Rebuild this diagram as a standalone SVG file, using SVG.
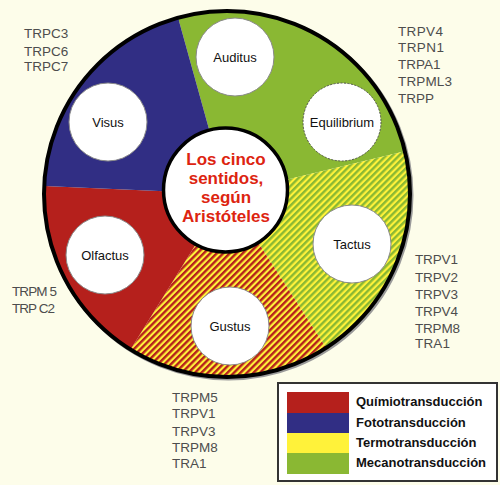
<svg xmlns="http://www.w3.org/2000/svg" width="500" height="485" viewBox="0 0 500 485">
<style>
.node{fill:#fff;stroke:#8a8a8a;stroke-width:1}
.dash{stroke:#555;stroke-dasharray:2 1.5}
.nl{font-family:"Liberation Sans",Arial,sans-serif;font-size:13px;fill:#111;text-anchor:middle}
.lab{font-family:"Liberation Sans",Arial,sans-serif;font-size:13.5px;fill:#4d4d4d}
.ctr{font-family:"Liberation Sans",Arial,sans-serif;font-size:17px;font-weight:bold;fill:#dd2410;text-anchor:middle}
.leg{font-family:"Liberation Sans",Arial,sans-serif;font-size:13px;font-weight:bold;fill:#111}
</style>
<defs>
<pattern id="hRed" width="4.6" height="4.6" patternUnits="userSpaceOnUse" patternTransform="rotate(45)">
<rect width="4.6" height="4.6" fill="#fff23a"/>
<rect width="2.4" height="4.6" fill="#b5201c"/>
</pattern>
<pattern id="hGreen" width="4.6" height="4.6" patternUnits="userSpaceOnUse" patternTransform="rotate(45)">
<rect width="4.6" height="4.6" fill="#fff23a"/>
<rect width="2.4" height="4.6" fill="#8ab833"/>
</pattern>
</defs>
<rect width="500" height="485" fill="#fdfdea"/>
<g id="sectors">
<circle cx="228.5" cy="195.5" r="183" fill="none" stroke="#9a9a9a" stroke-width="4"/>
<path d="M227 194 L178.1 17.7 A183 183 0 0 1 404.9 151.3 Z" fill="#8ab833"/>
<path d="M227 194 L404.9 151.3 A183 183 0 0 1 326.1 347.8 Z" fill="url(#hGreen)"/>
<path d="M227 194 L326.1 347.8 A183 183 0 0 1 130.6 349.5 Z" fill="url(#hRed)"/>
<path d="M227 194 L130.6 349.5 A183 183 0 0 1 44.2 186 Z" fill="#b5201c"/>
<path d="M227 194 L44.2 186 A183 183 0 0 1 178.1 17.7 Z" fill="#312e84"/>
<circle cx="227" cy="194" r="183" fill="none" stroke="#000" stroke-width="4"/>
</g>
<g id="connectors"/>
<g id="center">
<circle cx="225.5" cy="190" r="62" fill="#fff" stroke="#000" stroke-width="3.5"/>
<text class="ctr" x="226" y="164.5">Los cinco</text>
<text class="ctr" x="226" y="184">sentidos,</text>
<text class="ctr" x="226" y="203">según</text>
<text class="ctr" x="226" y="222">Aristóteles</text>
</g>
<g id="auditus">
<circle class="node" cx="235" cy="57" r="39"/>
<text class="nl" x="235" y="61.5">Auditus</text>
</g>
<g id="visus">
<circle class="node" cx="108" cy="122" r="39"/>
<text class="nl" x="108" y="126.5">Visus</text>
</g>
<g id="equilibrium">
<circle class="node dash" cx="342" cy="122" r="39"/>
<text class="nl" x="342" y="126.5">Equilibrium</text>
</g>
<g id="tactus">
<circle class="node" cx="352" cy="244" r="39"/>
<text class="nl" x="352" y="248.5">Tactus</text>
</g>
<g id="gustus">
<circle class="node" cx="230" cy="326" r="39"/>
<text class="nl" x="230" y="330.5">Gustus</text>
</g>
<g id="olfactus">
<circle class="node" cx="105" cy="255" r="39"/>
<text class="nl" x="105" y="259.5">Olfactus</text>
</g>
<g id="labels-visus">
<text class="lab" x="24" y="38">TRPC3</text>
<text class="lab" x="24" y="56">TRPC6</text>
<text class="lab" x="24" y="71">TRPC7</text>
</g>
<g id="labels-meca">
<text class="lab" x="398" y="36" textLength="45">TRPV4</text>
<text class="lab" x="398" y="52" textLength="46">TRPN1</text>
<text class="lab" x="398" y="69">TRPA1</text>
<text class="lab" x="398" y="86" textLength="54">TRPML3</text>
<text class="lab" x="398" y="103">TRPP</text>
</g>
<g id="labels-olf">
<text class="lab" x="12" y="296" textLength="45">TRPM 5</text>
<text class="lab" x="12" y="313" textLength="43">TRP C2</text>
</g>
<g id="labels-gus">
<text class="lab" x="172" y="402">TRPM5</text>
<text class="lab" x="172" y="418">TRPV1</text>
<text class="lab" x="172" y="436">TRPV3</text>
<text class="lab" x="172" y="452">TRPM8</text>
<text class="lab" x="172" y="468">TRA1</text>
</g>
<g id="labels-tac">
<text class="lab" x="415" y="264" textLength="43">TRPV1</text>
<text class="lab" x="415" y="282" textLength="43">TRPV2</text>
<text class="lab" x="415" y="299" textLength="43">TRPV3</text>
<text class="lab" x="415" y="316" textLength="43">TRPV4</text>
<text class="lab" x="415" y="333" textLength="45">TRPM8</text>
<text class="lab" x="415" y="348" textLength="35">TRA1</text>
</g>
<g id="legend">
<rect x="278" y="383" width="219" height="98" fill="#fff" stroke="#333" stroke-width="2"/>
<rect x="287" y="392" width="62" height="21" fill="#b5201c"/>
<rect x="287" y="413" width="62" height="20" fill="#312e84"/>
<rect x="287" y="433" width="62" height="20" fill="#fff23a"/>
<rect x="287" y="453" width="62" height="21" fill="#8ab833"/>
<text class="leg" x="356" y="406">Químiotransducción</text>
<text class="leg" x="356" y="427">Fototransducción</text>
<text class="leg" x="356" y="447">Termotransducción</text>
<text class="leg" x="356" y="467">Mecanotransducción</text>
</g>
</svg>
